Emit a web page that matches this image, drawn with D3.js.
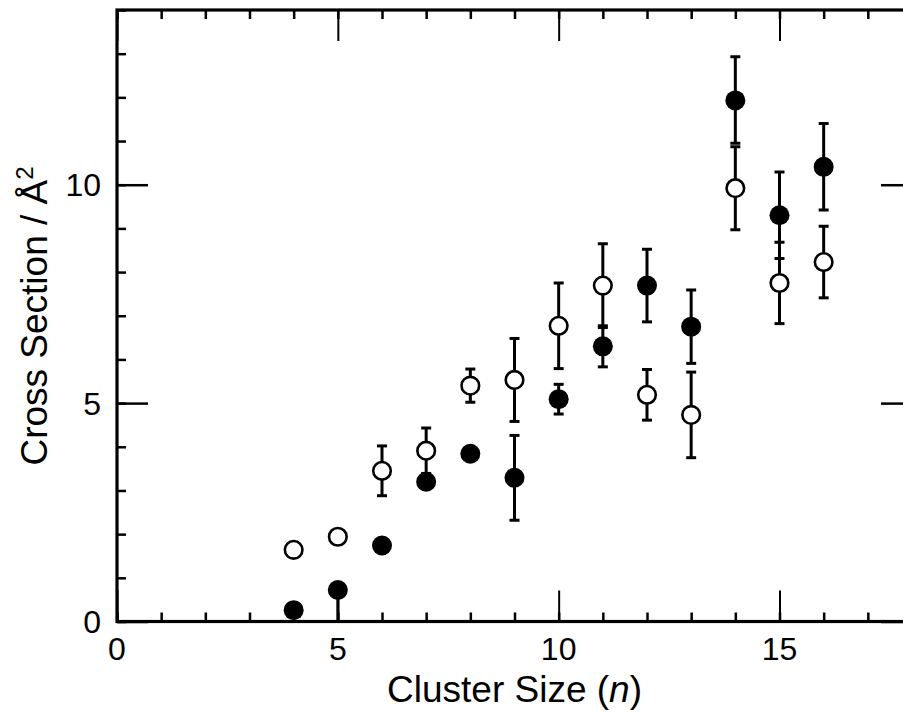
<!DOCTYPE html>
<html>
<head>
<meta charset="utf-8">
<script src="https://cdn.jsdelivr.net/npm/d3@7"></script>
<style>
  html, body { margin: 0; padding: 0; background: #fff; }
  svg { display: block; }
  text { font-family: "Liberation Sans", Arial, Helvetica, sans-serif; fill: #000; }
</style>
</head>
<body>
<svg id="chart" width="903" height="715"></svg>
<script>
// ---- data ----
const clusterSize = [4, 5, 6, 7, 8, 9, 10, 11, 12, 13, 14, 15, 16];
const filledValues = [0.26, 0.72, 1.74, 3.20, 3.84, 3.29, 5.09, 6.30, 7.69, 6.75, 11.93, 9.30, 10.41];
const filledErrLow  = [0, 0.80, 0, 0, 0, 0.97, 0.34, 0.47, 0.83, 0.84, 0.98, 0.99, 0.99];
const filledErrHigh = [0, 0, 0, 0, 0, 0.97, 0.34, 0.47, 0.83, 0.84, 1.00, 0.99, 0.99];
const openValues = [1.64, 1.94, 3.45, 3.91, 5.40, 5.53, 6.77, 7.69, 5.19, 4.73, 9.92, 7.75, 8.23];
const openErr    = [0, 0, 0.57, 0.52, 0.38, 0.95, 0.98, 0.96, 0.58, 0.98, 0.95, 0.93, 0.82];
const xMajorTicks = [0, 5, 10, 15];
const yMajorTicks = [0, 5, 10];
const xMinorTicks = d3.range(0, 19, 1);
const yMinorTicks = d3.range(0, 15, 1);

// ---- layout ----
const pLeft = 117, pRight = 912, pTop = 10, pBottom = 621.5;
const x = d3.scaleLinear().domain([0, 18]).range([pLeft, pRight]);
const y = d3.scaleLinear().domain([0, 14]).range([pBottom, pTop]);

const svg = d3.select("#chart");

svg.append("defs").append("clipPath").attr("id", "clip")
  .append("rect").attr("x", pLeft).attr("y", pTop).attr("width", pRight - pLeft).attr("height", pBottom - pTop);

function styleAxis(g, w) {
  g.selectAll(".domain").remove();
  g.selectAll("line").attr("stroke", "#000").attr("stroke-width", w);
  g.selectAll("text").remove();
}

// minor ticks (inward) on all four sides
svg.append("g").attr("transform", `translate(0,${pBottom})`)
  .call(d3.axisBottom(x).tickValues(xMinorTicks).tickSize(-9).tickSizeOuter(0)).call(g => styleAxis(g, 2.5));
svg.append("g").attr("transform", `translate(0,${pTop})`)
  .call(d3.axisTop(x).tickValues(xMinorTicks).tickSize(-9).tickSizeOuter(0)).call(g => styleAxis(g, 2.5));
svg.append("g").attr("transform", `translate(${pLeft},0)`)
  .call(d3.axisLeft(y).tickValues(yMinorTicks).tickSize(-9).tickSizeOuter(0)).call(g => styleAxis(g, 2.5));
svg.append("g").attr("transform", `translate(${pRight},0)`)
  .call(d3.axisRight(y).tickValues(yMinorTicks).tickSize(-9).tickSizeOuter(0)).call(g => styleAxis(g, 2.5));
// major ticks
svg.append("g").attr("transform", `translate(0,${pBottom})`)
  .call(d3.axisBottom(x).tickValues(xMajorTicks).tickSize(-31).tickSizeOuter(0)).call(g => styleAxis(g, 2));
svg.append("g").attr("transform", `translate(0,${pTop})`)
  .call(d3.axisTop(x).tickValues(xMajorTicks).tickSize(-31).tickSizeOuter(0)).call(g => styleAxis(g, 2));
svg.append("g").attr("transform", `translate(${pLeft},0)`)
  .call(d3.axisLeft(y).tickValues(yMajorTicks).tickSize(-31).tickSizeOuter(0)).call(g => styleAxis(g, 2.5));
svg.append("g").attr("transform", `translate(${pRight},0)`)
  .call(d3.axisRight(y).tickValues(yMajorTicks).tickSize(-31).tickSizeOuter(0)).call(g => styleAxis(g, 2.5));

// frame
svg.append("rect").attr("x", pLeft).attr("y", pTop).attr("width", pRight - pLeft).attr("height", pBottom - pTop)
  .attr("fill", "none").attr("stroke", "#000").attr("stroke-width", 3.2);

// tick labels
svg.append("g").selectAll("text").data(xMajorTicks).join("text")
  .attr("x", d => x(d)).attr("y", 660).attr("text-anchor", "middle")
  .attr("font-size", 32).text(d => d);
svg.append("g").selectAll("text").data(yMajorTicks).join("text")
  .attr("x", 101).attr("y", d => y(d) + 11.5).attr("text-anchor", "end")
  .attr("font-size", 32).text(d => d);

// axis titles
const xt = svg.append("text").attr("x", (pLeft + pRight) / 2).attr("y", 702)
  .attr("text-anchor", "middle").attr("font-size", 37);
xt.append("tspan").text("Cluster Size (");
xt.append("tspan").attr("font-style", "italic").text("n");
xt.append("tspan").text(")");

const yt = svg.append("text").attr("transform", "translate(47,316) rotate(-90)")
  .attr("text-anchor", "middle").attr("font-size", 37);
yt.append("tspan").text("Cross Section / Å");
yt.append("tspan").attr("font-size", 24).attr("dy", -14).text("2");

// data
const gData = svg.append("g").attr("clip-path", "url(#clip)");
const filled = clusterSize.map((n, i) => ({ n, v: filledValues[i], lo: filledErrLow[i], hi: filledErrHigh[i] }));
const open = clusterSize.map((n, i) => ({ n, v: openValues[i], lo: openErr[i], hi: openErr[i] }));
const capW = 5;

function errorBars(data) {
  const g = gData.append("g").attr("stroke", "#000");
  const withErr = data.filter(d => d.lo > 0 || d.hi > 0);
  g.selectAll("line.bar").data(withErr).join("line").attr("class", "bar")
    .attr("x1", d => x(d.n)).attr("x2", d => x(d.n))
    .attr("y1", d => y(d.v - d.lo)).attr("y2", d => y(d.v + d.hi))
    .attr("stroke-width", 3);
  g.selectAll("line.caphi").data(withErr.filter(d => d.hi > 0)).join("line").attr("class", "caphi")
    .attr("x1", d => x(d.n) - capW).attr("x2", d => x(d.n) + capW)
    .attr("y1", d => y(d.v + d.hi)).attr("y2", d => y(d.v + d.hi))
    .attr("stroke-width", 3);
  g.selectAll("line.caplo").data(withErr.filter(d => d.lo > 0)).join("line").attr("class", "caplo")
    .attr("x1", d => x(d.n) - capW).attr("x2", d => x(d.n) + capW)
    .attr("y1", d => y(d.v - d.lo)).attr("y2", d => y(d.v - d.lo))
    .attr("stroke-width", 3);
}
errorBars(filled);
errorBars(open);

gData.append("g").selectAll("circle").data(filled).join("circle")
  .attr("cx", d => x(d.n)).attr("cy", d => y(d.v)).attr("r", 10).attr("fill", "#000");
gData.append("g").selectAll("circle").data(open).join("circle")
  .attr("cx", d => x(d.n)).attr("cy", d => y(d.v)).attr("r", 8.8)
  .attr("fill", "#fff").attr("stroke", "#000").attr("stroke-width", 2.6);
</script>
</body>
</html>
